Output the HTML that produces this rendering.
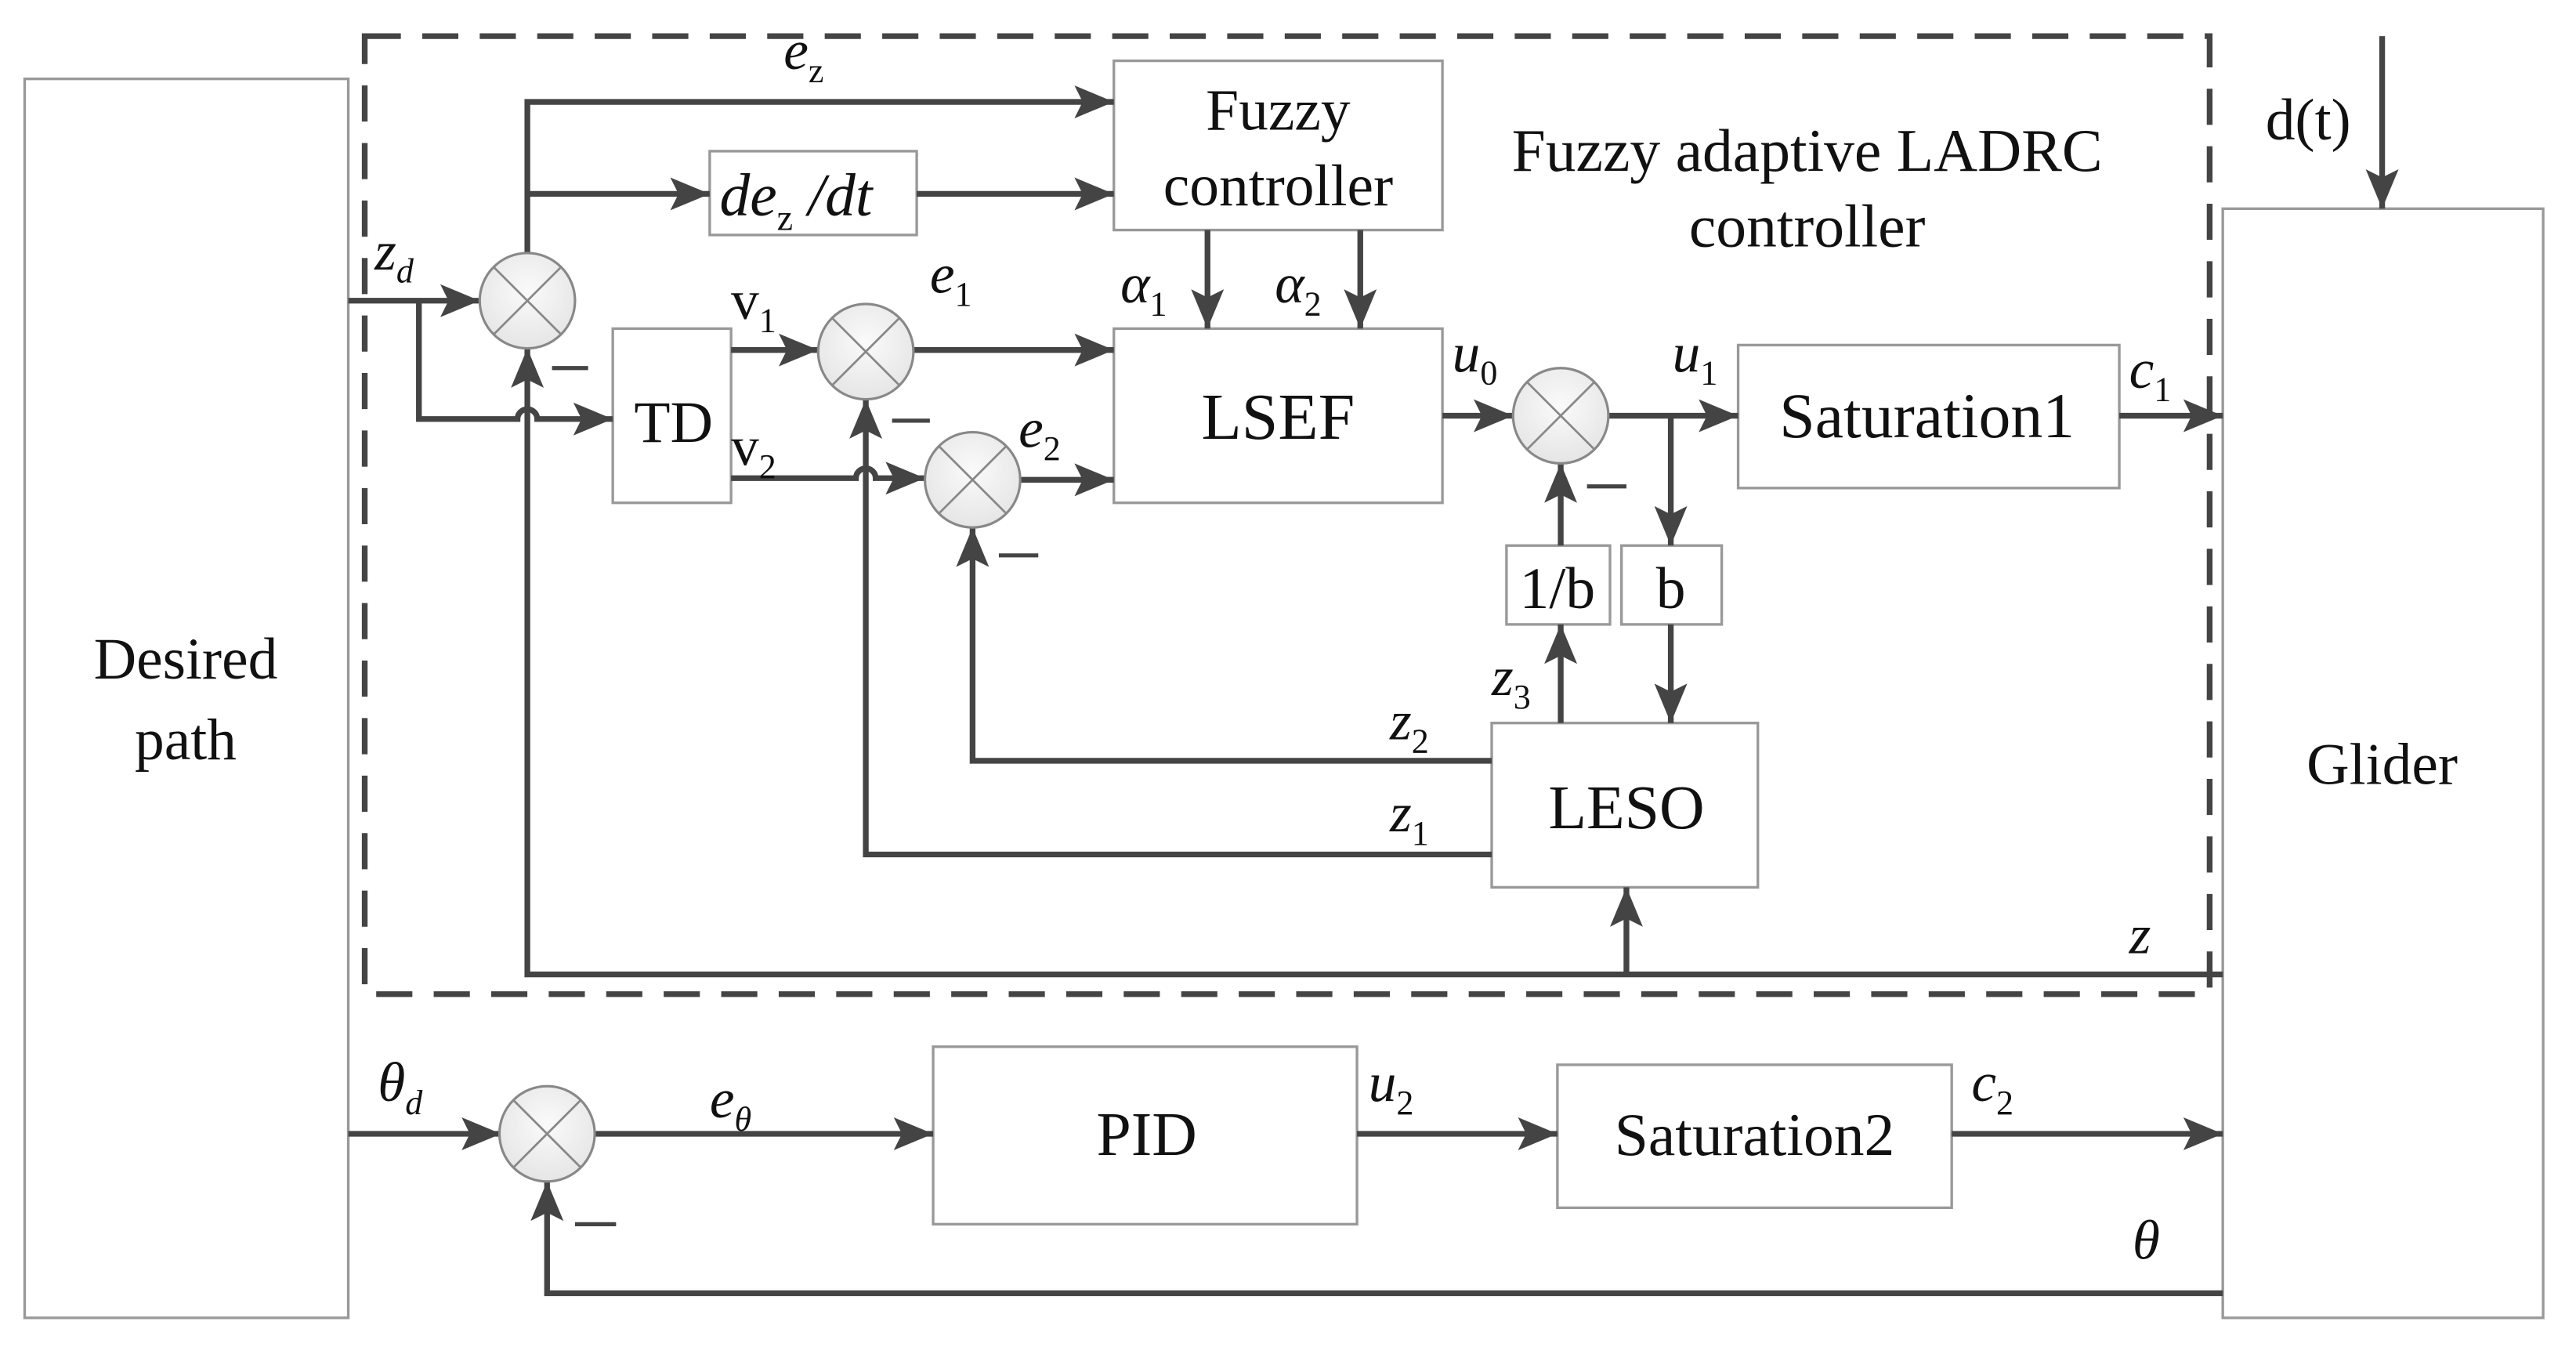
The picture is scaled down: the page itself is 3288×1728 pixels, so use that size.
<!DOCTYPE html>
<html><head><meta charset="utf-8"><style>
html,body{margin:0;padding:0;background:#fff;}
svg{display:block;}
.t{font-family:"Liberation Serif",serif;fill:#111;}
.i{font-family:"Liberation Serif",serif;font-style:italic;fill:#111;}
</style></head><body>
<svg width="3288" height="1728" viewBox="0 0 1568 824" preserveAspectRatio="none" xmlns="http://www.w3.org/2000/svg">
<defs>
<marker id="a" markerUnits="userSpaceOnUse" markerWidth="26" markerHeight="20" refX="24" refY="10" orient="auto">
<path d="M0,0 L24,10 L0,20 L5,10 Z" fill="#444"/></marker>
<radialGradient id="g" cx="0.5" cy="0.4" r="0.7"><stop offset="0" stop-color="#fafafa"/><stop offset="1" stop-color="#e2e2e2"/></radialGradient>
</defs>
<rect width="1568" height="824" fill="#fff"/>
<g fill="#fff" stroke="#999" stroke-width="1.6">
<rect x="15" y="48" width="197" height="754"/>
<rect x="1353" y="127" width="195" height="675"/>
<rect x="678" y="37" width="200" height="103"/>
<rect x="432" y="92" width="126" height="51"/>
<rect x="373" y="200" width="72" height="106"/>
<rect x="678" y="200" width="200" height="106"/>
<rect x="1058" y="210" width="232" height="87"/>
<rect x="917" y="332" width="63" height="48"/>
<rect x="987" y="332" width="61" height="48"/>
<rect x="908" y="440" width="162" height="100"/>
<rect x="568" y="637" width="258" height="108"/>
<rect x="948" y="648" width="240" height="87"/>
</g>
<rect x="222" y="22" width="1123" height="583" fill="none" stroke="#444" stroke-width="3.5" stroke-dasharray="22,13"/>
<g fill="none" stroke="#444" stroke-width="3.5">
<path d="M212,183 H292" marker-end="url(#a)"/>
<path d="M255,183 V255 H315 a6,6 0 0 1 12,0 H373" marker-end="url(#a)"/>
<path d="M321,154 V62 H678" marker-end="url(#a)"/>
<path d="M321,118 H432" marker-end="url(#a)"/>
<path d="M558,118 H678" marker-end="url(#a)"/>
<path d="M1353,593 H321 V212" marker-end="url(#a)"/>
<path d="M990,593 V540" marker-end="url(#a)"/>
<path d="M445,213 H498" marker-end="url(#a)"/>
<path d="M556,213 H678" marker-end="url(#a)"/>
<path d="M445,291 H521 a6,6 0 0 1 12,0 H563" marker-end="url(#a)"/>
<path d="M621,292 H678" marker-end="url(#a)"/>
<path d="M735,140 V200" marker-end="url(#a)"/>
<path d="M828,140 V200" marker-end="url(#a)"/>
<path d="M908,520 H527 V243" marker-end="url(#a)"/>
<path d="M908,463 H592 V321" marker-end="url(#a)"/>
<path d="M878,253 H921" marker-end="url(#a)"/>
<path d="M979,253 H1058" marker-end="url(#a)"/>
<path d="M1017,253 V332" marker-end="url(#a)"/>
<path d="M1290,253 H1353" marker-end="url(#a)"/>
<path d="M950,332 V282" marker-end="url(#a)"/>
<path d="M950,440 V380" marker-end="url(#a)"/>
<path d="M1017,380 V440" marker-end="url(#a)"/>
<path d="M1450,22 V127" marker-end="url(#a)"/>
<path d="M212,690 H305" marker-end="url(#a)"/>
<path d="M362,690 H568" marker-end="url(#a)"/>
<path d="M826,690 H948" marker-end="url(#a)"/>
<path d="M1188,690 H1353" marker-end="url(#a)"/>
<path d="M1353,787 H333 V719" marker-end="url(#a)"/>
</g>
<g stroke="#444" stroke-width="2.5">
<line x1="336" y1="224" x2="358" y2="224"/>
<line x1="543" y1="256" x2="566" y2="256"/>
<line x1="608" y1="338" x2="632" y2="338"/>
<line x1="966" y1="296" x2="990" y2="296"/>
<line x1="350" y1="745" x2="375" y2="745"/>
</g>
<g stroke="#888" stroke-width="1.5" fill="url(#g)">
<circle cx="321" cy="183" r="29"/>
<circle cx="527" cy="214" r="29"/>
<circle cx="592" cy="292" r="29"/>
<circle cx="950" cy="253" r="29"/>
<circle cx="333" cy="690" r="29"/>
</g>
<g stroke="#888" stroke-width="1.3">
<path d="M300.5,162.5 L341.5,203.5 M341.5,162.5 L300.5,203.5"/>
<path d="M506.5,193.5 L547.5,234.5 M547.5,193.5 L506.5,234.5"/>
<path d="M571.5,271.5 L612.5,312.5 M612.5,271.5 L571.5,312.5"/>
<path d="M929.5,232.5 L970.5,273.5 M970.5,232.5 L929.5,273.5"/>
<path d="M312.5,669.5 L353.5,710.5 M353.5,669.5 L312.5,710.5"/>
</g>
<g class="t" font-size="36" text-anchor="middle">
<text x="113" y="413">Desired</text>
<text x="113" y="462">path</text>
<text x="1450" y="477">Glider</text>
<text x="778" y="79">Fuzzy</text>
<text x="778" y="125">controller</text>
<text x="1100" y="104" font-size="37">Fuzzy adaptive LADRC</text>
<text x="1100" y="150" font-size="37">controller</text>
<text x="410" y="269">TD</text>
<text x="778" y="267" font-size="40">LSEF</text>
<text x="1173" y="266" font-size="39">Saturation1</text>
<text x="948" y="370">1/b</text>
<text x="1017" y="370">b</text>
<text x="990" y="504" font-size="38">LESO</text>
<text x="698" y="703" font-size="38">PID</text>
<text x="1068" y="703" font-size="37">Saturation2</text>
<text x="1405" y="85">d(t)</text>
</g>
<g class="i" font-size="34">
<text x="477" y="42">e<tspan font-size="21" dy="8" font-style="normal">z</tspan></text>
<text x="438" y="131" font-size="37">de<tspan font-size="22" dy="9" font-style="normal">z</tspan><tspan dy="-9"> /dt</tspan></text>
<text x="228" y="164">z<tspan font-size="21" dy="8">d</tspan></text>
<text class="t" x="445" y="194" font-style="normal">v<tspan font-size="21" dy="8">1</tspan></text>
<text class="t" x="445" y="283" font-style="normal">v<tspan font-size="21" dy="8">2</tspan></text>
<text x="566" y="178">e<tspan font-size="21" dy="8" font-style="normal">1</tspan></text>
<text x="620" y="272">e<tspan font-size="21" dy="8" font-style="normal">2</tspan></text>
<text x="682" y="184">α<tspan font-size="21" dy="8" font-style="normal">1</tspan></text>
<text x="776" y="184">α<tspan font-size="21" dy="8" font-style="normal">2</tspan></text>
<text x="884" y="226">u<tspan font-size="21" dy="8" font-style="normal">0</tspan></text>
<text x="1018" y="226">u<tspan font-size="21" dy="8" font-style="normal">1</tspan></text>
<text x="1296" y="236">c<tspan font-size="21" dy="8" font-style="normal">1</tspan></text>
<text x="908" y="423">z<tspan font-size="21" dy="8" font-style="normal">3</tspan></text>
<text x="846" y="450">z<tspan font-size="21" dy="8" font-style="normal">2</tspan></text>
<text x="846" y="506">z<tspan font-size="21" dy="8" font-style="normal">1</tspan></text>
<text x="1296" y="580">z</text>
<text x="230" y="670">θ<tspan font-size="21" dy="8">d</tspan></text>
<text x="432" y="680">e<tspan font-size="21" dy="8">θ</tspan></text>
<text x="833" y="670">u<tspan font-size="21" dy="8" font-style="normal">2</tspan></text>
<text x="1200" y="670">c<tspan font-size="21" dy="8" font-style="normal">2</tspan></text>
<text x="1298" y="766">θ</text>
</g>
</svg>
</body></html>
